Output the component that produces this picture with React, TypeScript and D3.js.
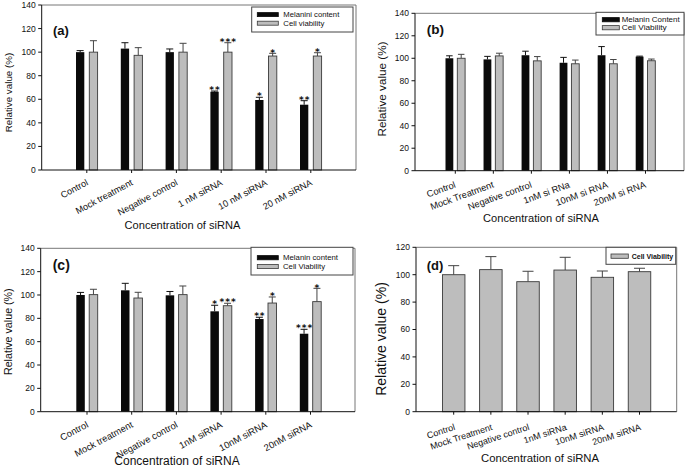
import React from "react";
import * as d3 from "d3";

// ---------- data ----------
const catsA = ["Control", "Mock treatment", "Negative control", "1 nM siRNA", "10 nM siRNA", "20 nM siRNA"];
const melA = [100, 103, 100, 66.4, 59.4, 55.4];
const melErrA = [1.3, 5, 2.7, 0.6, 2.3, 3.4];
const viaA = [100, 97.3, 100, 100, 96.7, 96.7];
const viaErrA = [9.7, 6.5, 7.5, 8, 2.3, 2.8];
const melStarsA = ["", "", "", "**", "*", "**"];
const viaStarsA = ["", "", "", "***", "*", "*"];
const legendA = ["Melanini content", "Cell viability"];

const catsB = ["Control", "Mock Treatment", "Negative control", "1nM si RNa", "10nM si RNA", "20nM si RNA"];
const melB = [100, 99, 102.7, 96, 102.7, 101.5];
const melErrB = [2.2, 2.7, 3.6, 4.8, 7.7, 0.4];
const viaB = [100, 102.1, 97.7, 95.1, 95.1, 97.8];
const viaErrB = [3.5, 2.4, 3.8, 3.3, 3.8, 1.5];
const legendB = ["Melanin Content", "Cell Viability"];

const catsC = ["Control", "Mock treatment", "Negative control", "1nM siRNA", "10nM siRNA", "20nM siRNA"];
const melC = [100, 104, 99.7, 86, 79.4, 66.8];
const melErrC = [2.2, 6, 3.3, 5.2, 1.5, 3.8];
const viaC = [100.3, 97.4, 100.3, 90.8, 93.1, 94.3];
const viaErrC = [4.6, 4.9, 7.4, 2.1, 5.2, 11.4];
const melStarsC = ["", "", "", "*", "**", "***"];
const viaStarsC = ["", "", "", "***", "*", "*"];
const legendC = ["Melanin content", "Cell Viability"];

const catsD = ["Control", "Mock Treatment", "Negative control", "1nM siRNa", "10nM siRNA", "20nM siRNA"];
const viaD = [100, 103.7, 94.9, 103.4, 98.1, 102.2];
const viaErrD = [6.6, 9.5, 7.6, 9.3, 4.6, 2.5];
const legendD = ["Cell Viability"];

const ticks140 = [0, 20, 40, 60, 80, 100, 120, 140];
const ticks120 = [0, 20, 40, 60, 80, 100, 120];

const yTitle = "Relative value (%)";
const xTitle = "Concentration of siRNA";

const FONT = "'Liberation Sans', Arial, Helvetica, sans-serif";
const STAR_FONT = "'DejaVu Sans', sans-serif";
const BLACK = "#0a0a0a";
const GRAY = "#bdbdbd";
const GRAY_STROKE = "#3a3a3a";

type Series = { values: number[]; errs: number[]; stars?: string[]; fill: string; stroke: string; errColor: string };

type PanelProps = {
  cats: string[];
  series: Series[];
  legend: string[];
  ticks: number[];
  yMax: number;
  frame: { l: number; r: number; t: number; b: number };
  xr: [number, number];
  barW: number;
  gap: number;
  capW: number;
  xl: { angle: number; dx: number; dy: number; fs: number };
  yl: { x: number; y: number; fs: number };
  xt: { x: number; y: number; fs: number };
  pl: { text: string; x: number; y: number; fs: number };
  lg: {
    x: number; y: number; w: number; h: number; swX: number; swW: number; rows: number[]; swH: number;
    tx: number; fs: number; bold?: boolean; tl?: number[];
  };
  tickFs: number;
};

function Panel(p: PanelProps) {
  const { frame, series } = p;
  const x = d3.scalePoint<string>().domain(p.cats).range(p.xr);
  const y = d3.scaleLinear().domain([0, p.yMax]).range([frame.b, frame.t]);
  const n = series.length;
  const offsets = n === 1 ? [0] : [-(p.gap + p.barW / 2), p.gap + p.barW / 2];

  return (
    <g fontFamily={FONT}>
      {/* bars */}
      {series.map((s, si) =>
        p.cats.map((c, i) => {
          const cx = (x(c) as number) + offsets[si];
          const top = y(s.values[i]);
          const et = y(s.values[i] + s.errs[i]);
          return (
            <g key={`b${si}-${i}`}>
              <line x1={cx} x2={cx} y1={top} y2={et} stroke={s.errColor} strokeWidth={1} />
              <line x1={cx - p.capW / 2} x2={cx + p.capW / 2} y1={et} y2={et} stroke={s.errColor} strokeWidth={1} />
              <rect x={cx - p.barW / 2} y={top} width={p.barW} height={frame.b - top} fill={s.fill} stroke={s.stroke} strokeWidth={s.stroke === "none" ? 0 : 0.9} />
              {s.stars && s.stars[i] ? (
                <text x={cx + 0.5} y={et + 2.2} textAnchor="middle" fontFamily={STAR_FONT} fontWeight="bold" fontSize={9} letterSpacing={1} fill="#111">
                  {s.stars[i]}
                </text>
              ) : null}
            </g>
          );
        })
      )}
      {/* frame */}
      <line x1={frame.l} x2={frame.r} y1={frame.t} y2={frame.t} stroke="#777" strokeWidth={1} />
      <line x1={frame.r} x2={frame.r} y1={frame.t} y2={frame.b} stroke="#777" strokeWidth={1} />
      <line x1={frame.l} x2={frame.l} y1={frame.t} y2={frame.b} stroke="#111" strokeWidth={1} />
      <line x1={frame.l} x2={frame.r} y1={frame.b} y2={frame.b} stroke="#111" strokeWidth={1} />
      {/* y ticks */}
      {p.ticks.map((t) => (
        <g key={`yt${t}`}>
          <line x1={frame.l - 3.5} x2={frame.l} y1={y(t)} y2={y(t)} stroke="#111" />
          <text x={frame.l - 6} y={y(t)} dy="0.35em" textAnchor="end" fontSize={p.tickFs} fill="#111">
            {t}
          </text>
        </g>
      ))}
      {/* x ticks and labels */}
      {p.cats.map((c) => {
        const cx = x(c) as number;
        return (
          <g key={`xt${c}`}>
            <line x1={cx} x2={cx} y1={frame.b} y2={frame.b + 3} stroke="#111" />
            <text
              transform={`translate(${cx + p.xl.dx},${frame.b + p.xl.dy}) rotate(${p.xl.angle})`}
              textAnchor="end"
              fontSize={p.xl.fs}
              fill="#111"
            >
              {c}
            </text>
          </g>
        );
      })}
      {/* axis titles */}
      <text transform={`translate(${p.yl.x},${p.yl.y}) rotate(-90)`} textAnchor="middle" fontSize={p.yl.fs} fill="#111">
        {yTitle}
      </text>
      <text x={p.xt.x} y={p.xt.y} textAnchor="middle" fontSize={p.xt.fs} fill="#111">
        {xTitle}
      </text>
      {/* panel label */}
      <text x={p.pl.x} y={p.pl.y} fontSize={p.pl.fs} fontWeight="bold" fill="#111">
        {p.pl.text}
      </text>
      {/* legend */}
      <rect x={p.lg.x} y={p.lg.y} width={p.lg.w} height={p.lg.h} fill="#fff" stroke="#444" strokeWidth={1} />
      {p.legend.map((name, i) => {
        const s = series[n === 1 ? 0 : i];
        const ty = p.lg.rows[i];
        return (
          <g key={`lg${i}`}>
            <rect x={p.lg.swX} y={ty} width={p.lg.swW} height={p.lg.swH} fill={s.fill} stroke={s.stroke === "none" ? BLACK : s.stroke} strokeWidth={0.8} />
            <text
              x={p.lg.tx}
              y={ty + p.lg.swH + 0.3}
              fontSize={p.lg.fs}
              fontWeight={p.lg.bold ? "bold" : "normal"}
              fill="#111"
              textLength={p.lg.tl ? p.lg.tl[i] : undefined}
              lengthAdjust={p.lg.tl ? "spacingAndGlyphs" : undefined}
            >
              {name}
            </text>
          </g>
        );
      })}
    </g>
  );
}

const blackS = (values: number[], errs: number[], stars?: string[]): Series => ({ values, errs, stars, fill: BLACK, stroke: "none", errColor: "#111" });
const grayS = (values: number[], errs: number[], stars?: string[]): Series => ({ values, errs, stars, fill: GRAY, stroke: GRAY_STROKE, errColor: "#444" });

export default function App() {
  return (
    <svg width={685} height={470} style={{ position: "absolute", left: 0, top: 0, background: "#fff" }}>
      <rect width={685} height={470} fill="#fff" />
      <Panel
        cats={catsA}
        series={[blackS(melA, melErrA, melStarsA), grayS(viaA, viaErrA, viaStarsA)]}
        legend={legendA}
        ticks={ticks140}
        yMax={140}
        frame={{ l: 41.7, r: 356, t: 5, b: 170 }}
        xr={[86.8, 310.8]}
        barW={8.3}
        gap={2.5}
        capW={7}
        xl={{ angle: -28, dx: 2, dy: 14.5, fs: 9.2 }}
        yl={{ x: 11.5, y: 92.5, fs: 9.8 }}
        xt={{ x: 182.5, y: 229, fs: 11.1 }}
        pl={{ text: "(a)", x: 53, y: 35, fs: 13 }}
        lg={{ x: 251.7, y: 7, w: 101.3, h: 25, swX: 257.3, swW: 21, rows: [12.6, 21.2], swH: 4, tx: 283.3, fs: 7, tl: [56, 41] }}
        tickFs={8.5}
      />
      <Panel
        cats={catsB}
        series={[blackS(melB, melErrB), grayS(viaB, viaErrB)]}
        legend={legendB}
        ticks={ticks140}
        yMax={140}
        frame={{ l: 415, r: 684, t: 13.3, b: 170.7 }}
        xr={[455.3, 645.5]}
        barW={7.8}
        gap={2}
        capW={6.5}
        xl={{ angle: -20, dx: 1, dy: 16.5, fs: 9.3 }}
        yl={{ x: 385.5, y: 89, fs: 11.7 }}
        xt={{ x: 541, y: 222, fs: 11.1 }}
        pl={{ text: "(b)", x: 426.7, y: 34, fs: 13.6 }}
        lg={{ x: 596, y: 12.3, w: 88, h: 22.7, swX: 602.3, swW: 17, rows: [17.6, 25.6], swH: 4.2, tx: 621.7, fs: 6.9, tl: [58, 45] }}
        tickFs={8.5}
      />
      <Panel
        cats={catsC}
        series={[blackS(melC, melErrC, melStarsC), grayS(viaC, viaErrC, viaStarsC)]}
        legend={legendC}
        ticks={ticks140}
        yMax={140}
        frame={{ l: 40.7, r: 355, t: 248.3, b: 411.7 }}
        xr={[87, 310.5]}
        barW={8.5}
        gap={2.2}
        capW={7}
        xl={{ angle: -28, dx: 2, dy: 15, fs: 9.4 }}
        yl={{ x: 11.5, y: 331.7, fs: 10.7 }}
        xt={{ x: 177, y: 465, fs: 12 }}
        pl={{ text: "(c)", x: 52.7, y: 270, fs: 14 }}
        lg={{ x: 251, y: 247.3, w: 102, h: 27.7, swX: 257.3, swW: 21, rows: [255.6, 264.4], swH: 4.2, tx: 283, fs: 7.3, tl: [55, 42] }}
        tickFs={8.5}
      />
      <Panel
        cats={catsD}
        series={[grayS(viaD, viaErrD)]}
        legend={legendD}
        ticks={ticks120}
        yMax={120}
        frame={{ l: 416, r: 676.7, t: 247.3, b: 411.7 }}
        xr={[453.7, 639.5]}
        barW={22.5}
        gap={0}
        capW={11}
        xl={{ angle: -18, dx: 2, dy: 18, fs: 9 }}
        yl={{ x: 386, y: 339, fs: 14 }}
        xt={{ x: 540, y: 462, fs: 11.3 }}
        pl={{ text: "(d)", x: 426.7, y: 269.7, fs: 13 }}
        lg={{ x: 606, y: 247.3, w: 69.7, h: 17, swX: 611, swW: 17.3, rows: [254], swH: 4.3, tx: 631.7, fs: 7, bold: true }}
        tickFs={8.5}
      />
    </svg>
  );
}
